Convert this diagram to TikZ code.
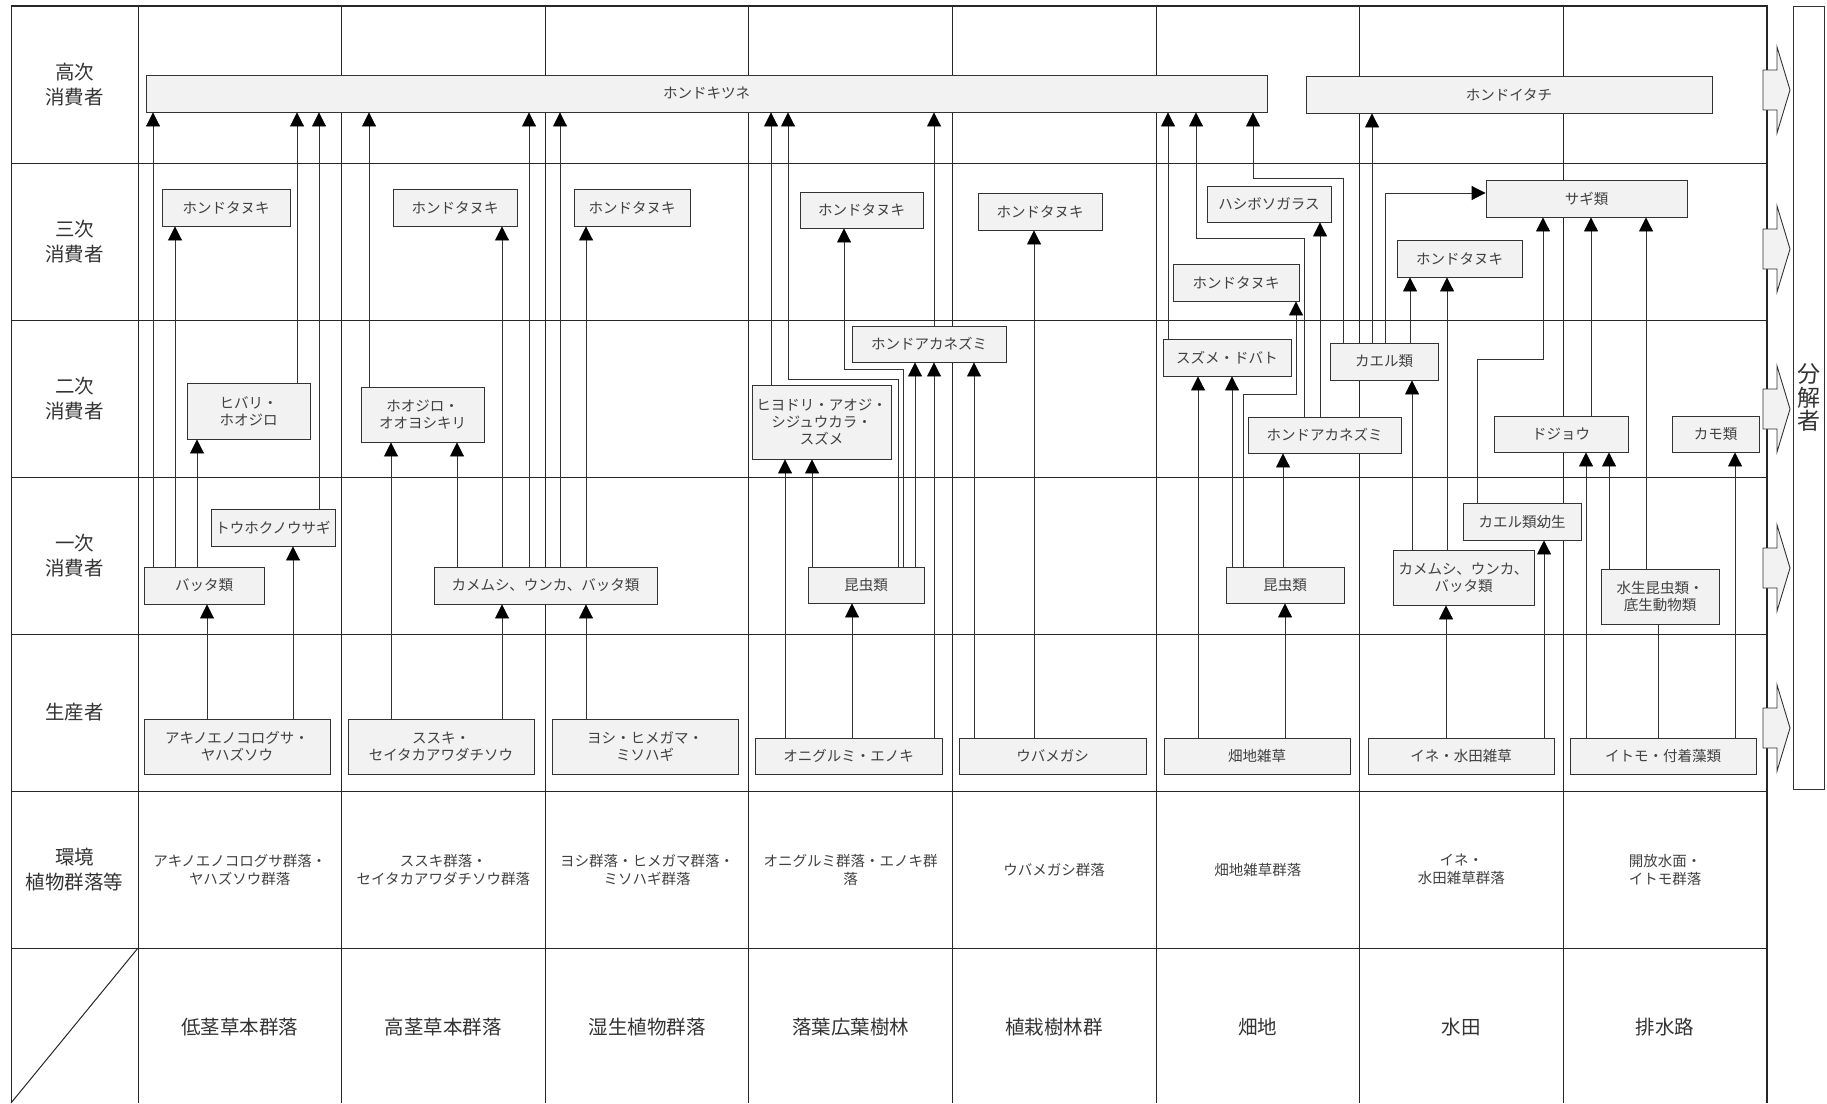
\documentclass[tikz,border=0pt]{standalone}
\usepackage{fontspec}
\setmainfont{Noto Sans CJK JP}
\usetikzlibrary{arrows.meta}

\begin{document}
\begin{tikzpicture}[x=1pt, y=-1pt,
	spbox/.style={draw=black!80, fill=black!5, line width=0.9pt, inner sep=0pt, align=center, text=black!75, font=\fontsize{14.5}{17}\selectfont},
	lbl/.style={align=center, text=black!80, font=\fontsize{19.5}{25}\selectfont},
	envtxt/.style={align=center, text=black!75, font=\fontsize{14.5}{18}\selectfont},
	arr/.style={draw=black!80, line width=0.9pt, -{Triangle[width=14pt,length=14pt,color=black]}},
	lnk/.style={draw=black!80, line width=0.9pt},
	gridline/.style={draw=black!85, line width=1pt},
	blk/.style={draw=black!80, fill=black!5, line width=0.9pt}]
	\useasboundingbox (0,0) rectangle (1827,1103);

	% table
	\foreach \j in {1,...,6}
		\draw [gridline] (11,{6+157*\j}) -- (1767,{6+157*\j});
	\draw [gridline] (11,6) -- (11,1103);
	\foreach \i in {0,...,7}
		\draw [gridline] ({138+203.6*\i},6) -- ({138+203.6*\i},1103);
	\draw [gridline, line width=2.5pt] (11,6) -- (1766.8,6) -- (1766.8,1103);
	\draw [gridline] (11,1103) -- (138,948);

	\foreach \t [count=\k] in {{高次\\消費者},{三次\\消費者},{二次\\消費者},{一次\\消費者},{生産者},{環境\\植物群落等}}
		\node [lbl] (lab\k) at (74.5,{84.5+157*(\k-1)}) {\t};
	\foreach \t [count=\k from 0] in {{アキノエノコログサ群落・\\ヤハズソウ群落},{ススキ群落・\\セイタカアワダチソウ群落},{ヨシ群落・ヒメガマ群落・\\ミソハギ群落},{オニグルミ群落・エノキ群\\落},{ウバメガシ群落},{畑地雑草群落},{イネ・\\水田雑草群落},{開放水面・\\イトモ群落}}
		\node [envtxt] (env\k) at ({239.8+203.6*\k},869.5) {\t};
	\foreach \t [count=\k from 0] in {低茎草本群落,高茎草本群落,湿生植物群落,落葉広葉樹林,植栽樹林群,畑地,水田,排水路}
		\node [lbl] (hab\k) at ({239.8+203.6*\k},1027) {\t};

	% decomposers
	\foreach \c in {90,249,409,568,728}
		\draw [blk] (1763,{\c-20}) -- (1777,{\c-20}) -- (1777,{\c-43}) -- (1790,\c) -- (1777,{\c+43}) -- (1777,{\c+20}) -- (1763,{\c+20}) -- cycle;
	\node [draw=black!80, fill=white, line width=0.9pt, minimum width=31pt, minimum height=783pt, inner sep=0pt, align=center, text=black!80, font=\fontsize{23}{23.5}\selectfont] (bunkai) at (1808.5,397.5) {分\\解\\者};

	% species
	\node [spbox, minimum width=1121pt, minimum height=37pt] (kitsune) at (706.5,93.5) {ホンドキツネ};
	\node [spbox, minimum width=406pt, minimum height=37pt] (itachi) at (1509,94.5) {ホンドイタチ};
	\node [spbox, minimum width=128pt, minimum height=37pt] (tanuki1) at (226,207.5) {ホンドタヌキ};
	\node [spbox, minimum width=124pt, minimum height=37pt] (tanuki2) at (455,207.5) {ホンドタヌキ};
	\node [spbox, minimum width=116pt, minimum height=37pt] (tanuki3) at (632,207.5) {ホンドタヌキ};
	\node [spbox, minimum width=123pt, minimum height=36pt] (tanuki4) at (861.5,210) {ホンドタヌキ};
	\node [spbox, minimum width=124pt, minimum height=37pt] (tanuki5) at (1040,211.5) {ホンドタヌキ};
	\node [spbox, minimum width=124pt, minimum height=36pt] (karasu) at (1269,204) {ハシボソガラス};
	\node [spbox, minimum width=126pt, minimum height=37pt] (tanuki6) at (1236,282.5) {ホンドタヌキ};
	\node [spbox, minimum width=201pt, minimum height=37pt] (sagi) at (1586.5,198.5) {サギ類};
	\node [spbox, minimum width=125pt, minimum height=37pt] (tanuki7) at (1459.5,258.5) {ホンドタヌキ};
	\node [spbox, minimum width=123pt, minimum height=56pt] (hibari) at (248.5,411) {ヒバリ・\\ホオジロ};
	\node [spbox, minimum width=123pt, minimum height=55pt] (hoojiro) at (422.5,414.5) {ホオジロ・\\オオヨシキリ};
	\node [spbox, minimum width=154pt, minimum height=36pt] (nezumi1) at (929,344) {ホンドアカネズミ};
	\node [spbox, minimum width=139pt, minimum height=74pt] (hiyodori) at (821.5,422) {ヒヨドリ・アオジ・\\シジュウカラ・\\スズメ};
	\node [spbox, minimum width=128pt, minimum height=37pt] (suzume) at (1227,357.5) {スズメ・ドバト};
	\node [spbox, minimum width=108pt, minimum height=37pt] (kaeru) at (1384,361.5) {カエル類};
	\node [spbox, minimum width=153pt, minimum height=36pt] (nezumi2) at (1324.5,435) {ホンドアカネズミ};
	\node [spbox, minimum width=134pt, minimum height=36pt] (dojou) at (1561,434) {ドジョウ};
	\node [spbox, minimum width=87pt, minimum height=36pt] (kamo) at (1715.5,434) {カモ類};
	\node [spbox, minimum width=124pt, minimum height=37pt] (usagi) at (273,527.5) {トウホクノウサギ};
	\node [spbox, minimum width=120pt, minimum height=37pt] (batta) at (204,585.5) {バッタ類};
	\node [spbox, minimum width=223pt, minimum height=37pt] (kame1) at (545.5,585.5) {カメムシ、ウンカ、バッタ類};
	\node [spbox, minimum width=116pt, minimum height=36pt] (konchu1) at (866,585) {昆虫類};
	\node [spbox, minimum width=118pt, minimum height=36pt] (konchu2) at (1285,585) {昆虫類};
	\node [spbox, minimum width=118pt, minimum height=37pt] (yousei) at (1522,521.5) {カエル類幼生};
	\node [spbox, minimum width=141pt, minimum height=55pt] (kame2) at (1463.5,577.5) {カメムシ、ウンカ、\\バッタ類};
	\node [spbox, minimum width=118pt, minimum height=55pt] (suisei) at (1660,596.5) {水生昆虫類・\\底生動物類};
	\node [spbox, minimum width=186pt, minimum height=55pt] (akino) at (237,746.5) {アキノエノコログサ・\\ヤハズソウ};
	\node [spbox, minimum width=186pt, minimum height=55pt] (susuki) at (441,746.5) {ススキ・\\セイタカアワダチソウ};
	\node [spbox, minimum width=186pt, minimum height=55pt] (yoshi) at (645,746.5) {ヨシ・ヒメガマ・\\ミソハギ};
	\node [spbox, minimum width=187pt, minimum height=36pt] (oni) at (848.5,756) {オニグルミ・エノキ};
	\node [spbox, minimum width=187pt, minimum height=36pt] (ubame) at (1052.5,756) {ウバメガシ};
	\node [spbox, minimum width=186pt, minimum height=36pt] (hatake) at (1257,756) {畑地雑草};
	\node [spbox, minimum width=186pt, minimum height=36pt] (ine) at (1461,756) {イネ・水田雑草};
	\node [spbox, minimum width=186pt, minimum height=36pt] (itomo) at (1663,756) {イトモ・付着藻類};

	% low-stem grassland
	\draw [arr] (batta.north -| 153,0) -- (kitsune.south -| 153,0);
	\draw [arr] (batta.north -| 175,0) -- (tanuki1.south -| 175,0);
	\draw [arr] (batta.north -| 197,0) -- (hibari.south -| 197,0);
	\draw [arr] (hibari.north -| 297,0) -- (kitsune.south -| 297,0);
	\draw [arr] (usagi.north -| 319,0) -- (kitsune.south -| 319,0);
	\draw [arr] (akino.north -| 207,0) -- (batta.south -| 207,0);
	\draw [arr] (akino.north -| 293,0) -- (usagi.south -| 293,0);
	% tall grassland, wetland
	\draw [arr] (hoojiro.north -| 369,0) -- (kitsune.south -| 369,0);
	\draw [arr] (susuki.north -| 391,0) -- (hoojiro.south -| 391,0);
	\draw [arr] (kame1.north -| 457,0) -- (hoojiro.south -| 457,0);
	\draw [arr] (kame1.north -| 502,0) -- (tanuki2.south -| 502,0);
	\draw [arr] (kame1.north -| 529,0) -- (kitsune.south -| 529,0);
	\draw [arr] (kame1.north -| 560,0) -- (kitsune.south -| 560,0);
	\draw [arr] (kame1.north -| 586,0) -- (tanuki3.south -| 586,0);
	\draw [arr] (susuki.north -| 502,0) -- (kame1.south -| 502,0);
	\draw [arr] (yoshi.north -| 586,0) -- (kame1.south -| 586,0);
	% deciduous forest, planted trees
	\draw [arr] (hiyodori.north -| 771,0) -- (kitsune.south -| 771,0);
	\draw [arr] (konchu1.north -| 898,0) -- (898,379) -- (788,379) -- (kitsune.south -| 788,0);
	\draw [arr] (konchu1.north -| 903,0) -- (903,369) -- (844,369) -- (tanuki4.south -| 844,0);
	\draw [arr] (konchu1.north -| 915,0) -- (nezumi1.south -| 915,0);
	\draw [arr] (oni.north -| 934,0) -- (nezumi1.south -| 934,0);
	\draw [arr] (nezumi1.north -| 934,0) -- (kitsune.south -| 934,0);
	\draw [arr] (ubame.north -| 974,0) -- (nezumi1.south -| 974,0);
	\draw [arr] (ubame.north -| 1034,0) -- (tanuki5.south -| 1034,0);
	\draw [arr] (konchu1.north -| 812,0) -- (hiyodori.south -| 812,0);
	\draw [arr] (oni.north -| 785,0) -- (hiyodori.south -| 785,0);
	\draw [arr] (oni.north -| 852,0) -- (konchu1.south -| 852,0);
	% field
	\draw [arr] (suzume.north -| 1168,0) -- (kitsune.south -| 1168,0);
	\draw [arr] (nezumi2.north -| 1304,0) -- (1304,238) -- (1196,238) -- (kitsune.south -| 1196,0);
	\draw [arr] (kaeru.north -| 1343,0) -- (1343,178) -- (1253,178) -- (kitsune.south -| 1253,0);
	\draw [arr] (nezumi2.north -| 1320,0) -- (karasu.south -| 1320,0);
	\draw [arr] (konchu2.north -| 1243,0) -- (1243,394) -- (1296,394) -- (tanuki6.south -| 1296,0);
	\draw [arr] (hatake.north -| 1198,0) -- (suzume.south -| 1198,0);
	\draw [arr] (konchu2.north -| 1232,0) -- (suzume.south -| 1232,0);
	\draw [arr] (hatake.north -| 1285,0) -- (konchu2.south -| 1285,0);
	\draw [arr] (konchu2.north -| 1283,0) -- (nezumi2.south -| 1283,0);
	% paddy, drainage
	\draw [arr] (kaeru.north -| 1372,0) -- (itachi.south -| 1372,0);
	\draw [arr] (kaeru.north -| 1385,0) -- (1385,193) -- (sagi.west |- 0,193);
	\draw [arr] (kaeru.north -| 1410,0) -- (tanuki7.south -| 1410,0);
	\draw [arr] (kame2.north -| 1412,0) -- (kaeru.south -| 1412,0);
	\draw [arr] (kame2.north -| 1447,0) -- (tanuki7.south -| 1447,0);
	\draw [arr] (yousei.north -| 1477,0) -- (1477,359) -- (1543,359) -- (sagi.south -| 1543,0);
	\draw [arr] (dojou.north -| 1591,0) -- (sagi.south -| 1591,0);
	\draw [arr] (suisei.north -| 1646,0) -- (sagi.south -| 1646,0);
	\draw [arr] (ine.north -| 1446,0) -- (kame2.south -| 1446,0);
	\draw [arr] (ine.north -| 1544,0) -- (yousei.south -| 1544,0);
	\draw [arr] (itomo.north -| 1586,0) -- (dojou.south -| 1586,0);
	\draw [arr] (suisei.north -| 1609,0) -- (dojou.south -| 1609,0);
	\draw [arr] (itomo.north -| 1735,0) -- (kamo.south -| 1735,0);
	\draw [lnk] (suisei.south -| 1658,0) -- (itomo.north -| 1658,0);
\end{tikzpicture}
\end{document}
